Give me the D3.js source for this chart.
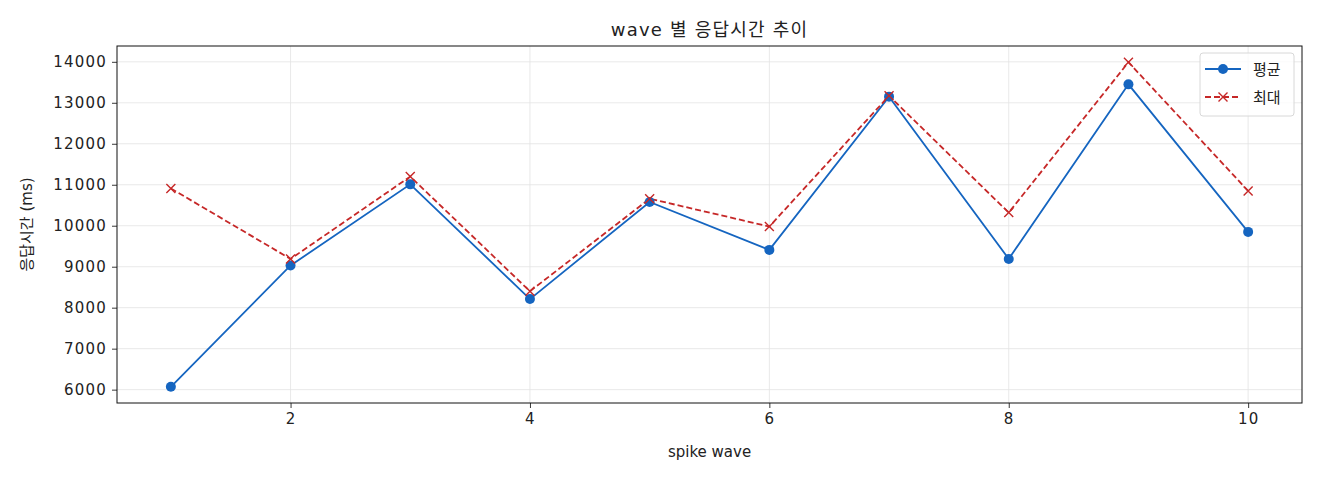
<!DOCTYPE html>
<html>
<head>
<meta charset="utf-8">
<script src="https://cdn.jsdelivr.net/npm/d3@7"></script>
<style>
    body { margin: 0; background: #fff; }
    svg text { font-family: "DejaVu Sans", "Noto Sans CJK KR", sans-serif; fill: #222; }
</style>
</head>
<body>
<svg id="chart" width="1320" height="480"></svg>
<script>
(function () {
    'use strict';

    // data
    var waves = [1, 2, 3, 4, 5, 6, 7, 8, 9, 10];
    var avgMs = [6070, 9030, 11010, 8210, 10580, 9410, 13150, 9190, 13450, 9850];
    var maxMs = [10910, 9190, 11200, 8400, 10660, 9980, 13170, 10320, 13990, 10850];
    var xTicks = [2, 4, 6, 8, 10];
    var yTicks = [6000, 7000, 8000, 9000, 10000, 11000, 12000, 13000, 14000];
    var seriesNames = ['평균', '최대'];

    // layout
    var m = { left: 117, right: 1302, top: 46, bottom: 403 },
        blue = '#1565c0',
        red = '#c62828',
        grid = '#e3e3e3';

    var svg = d3.select('#chart');

    // matplotlib-style 5% margins
    function padded(lo, hi) {
        var p = (hi - lo) * 0.05;
        return [lo - p, hi + p];
    }

    var allY = avgMs.concat(maxMs);
    var x = d3.scaleLinear()
        .domain(padded(d3.min(waves), d3.max(waves)))
        .range([m.left, m.right]);
    var y = d3.scaleLinear()
        .domain(padded(d3.min(allY), d3.max(allY)))
        .range([m.bottom, m.top]);

    // grid
    var g = svg.append('g');
    g.selectAll('line.gx').data(xTicks).enter().append('line')
        .attr('x1', function (d) { return x(d); })
        .attr('x2', function (d) { return x(d); })
        .attr('y1', m.top).attr('y2', m.bottom)
        .attr('stroke', grid).attr('stroke-width', 0.8);
    g.selectAll('line.gy').data(yTicks).enter().append('line')
        .attr('y1', function (d) { return y(d); })
        .attr('y2', function (d) { return y(d); })
        .attr('x1', m.left).attr('x2', m.right)
        .attr('stroke', grid).attr('stroke-width', 0.8);

    // axes
    var xAxis = svg.append('g')
        .attr('transform', 'translate(0,' + m.bottom + ')')
        .call(d3.axisBottom(x).tickValues(xTicks).tickSize(5).tickPadding(5));
    var yAxis = svg.append('g')
        .attr('transform', 'translate(' + m.left + ',0)')
        .call(d3.axisLeft(y).tickValues(yTicks).tickSize(5).tickPadding(5)
            .tickFormat(d3.format('d')));
    [xAxis, yAxis].forEach(function (a) {
        a.select('.domain').remove();
        a.selectAll('line').attr('stroke', '#222').attr('stroke-width', 0.9);
        a.selectAll('text').style('font-size', '15px')
            .style('letter-spacing', '1.2px').attr('fill', '#222');
    });

    // frame
    svg.append('rect')
        .attr('x', m.left).attr('y', m.top)
        .attr('width', m.right - m.left).attr('height', m.bottom - m.top)
        .attr('fill', 'none').attr('stroke', '#111').attr('stroke-width', 1);

    // lines
    var line = d3.line()
        .x(function (d, i) { return x(waves[i]); })
        .y(function (d) { return y(d); });

    svg.append('path').datum(avgMs)
        .attr('d', line).attr('fill', 'none')
        .attr('stroke', blue).attr('stroke-width', 1.8);
    svg.append('path').datum(maxMs)
        .attr('d', line).attr('fill', 'none')
        .attr('stroke', red).attr('stroke-width', 1.8)
        .attr('stroke-dasharray', '6,3');

    function crossPath(cx, cy, r) {
        return 'M' + (cx - r) + ',' + (cy - r) + 'L' + (cx + r) + ',' + (cy + r) +
            'M' + (cx - r) + ',' + (cy + r) + 'L' + (cx + r) + ',' + (cy - r);
    }

    svg.selectAll('circle.avg').data(avgMs).enter().append('circle')
        .attr('cx', function (d, i) { return x(waves[i]); })
        .attr('cy', function (d) { return y(d); })
        .attr('r', 5).attr('fill', blue);
    svg.selectAll('path.mx').data(maxMs).enter().append('path')
        .attr('d', function (d, i) { return crossPath(x(waves[i]), y(d), 4.5); })
        .attr('stroke', red).attr('stroke-width', 1.4).attr('fill', 'none');

    // labels
    svg.append('text')
        .attr('x', (m.left + m.right) / 2).attr('y', 36)
        .attr('text-anchor', 'middle').style('font-size', '18px')
        .style('letter-spacing', '1.2px')
        .text('wave 별 응답시간 추이');
    svg.append('text')
        .attr('x', (m.left + m.right) / 2).attr('y', 457)
        .attr('text-anchor', 'middle').style('font-size', '15px')
        .text('spike wave');
    svg.append('text')
        .attr('transform', 'translate(32,' + ((m.top + m.bottom) / 2) + ') rotate(-90)')
        .attr('text-anchor', 'middle').style('font-size', '15px')
        .text('응답시간 (ms)');

    // legend
    var lg = svg.append('g').attr('transform', 'translate(1200,53)');
    lg.append('rect')
        .attr('width', 94).attr('height', 63).attr('rx', 3)
        .attr('fill', 'rgba(255,255,255,0.8)')
        .attr('stroke', '#d8d8d8').attr('stroke-width', 1);
    var rows = lg.selectAll('g.row').data(seriesNames).enter().append('g')
        .attr('transform', function (d, i) { return 'translate(0,' + (16 + i * 28) + ')'; });
    rows.append('line')
        .attr('x1', 5).attr('x2', 41)
        .attr('stroke', function (d, i) { return i ? red : blue; })
        .attr('stroke-width', 1.8)
        .attr('stroke-dasharray', function (d, i) { return i ? '6,3' : null; });
    rows.each(function (d, i) {
        var r = d3.select(this);
        if (i === 0) {
            r.append('circle').attr('cx', 23).attr('cy', 0).attr('r', 5).attr('fill', blue);
        } else {
            r.append('path').attr('d', crossPath(23, 0, 4.5))
                .attr('stroke', red).attr('stroke-width', 1.4);
        }
    });
    rows.append('text')
        .attr('x', 53).attr('y', 6)
        .style('font-size', '15px')
        .text(function (d) { return d; });
}());
</script>
</body>
</html>
